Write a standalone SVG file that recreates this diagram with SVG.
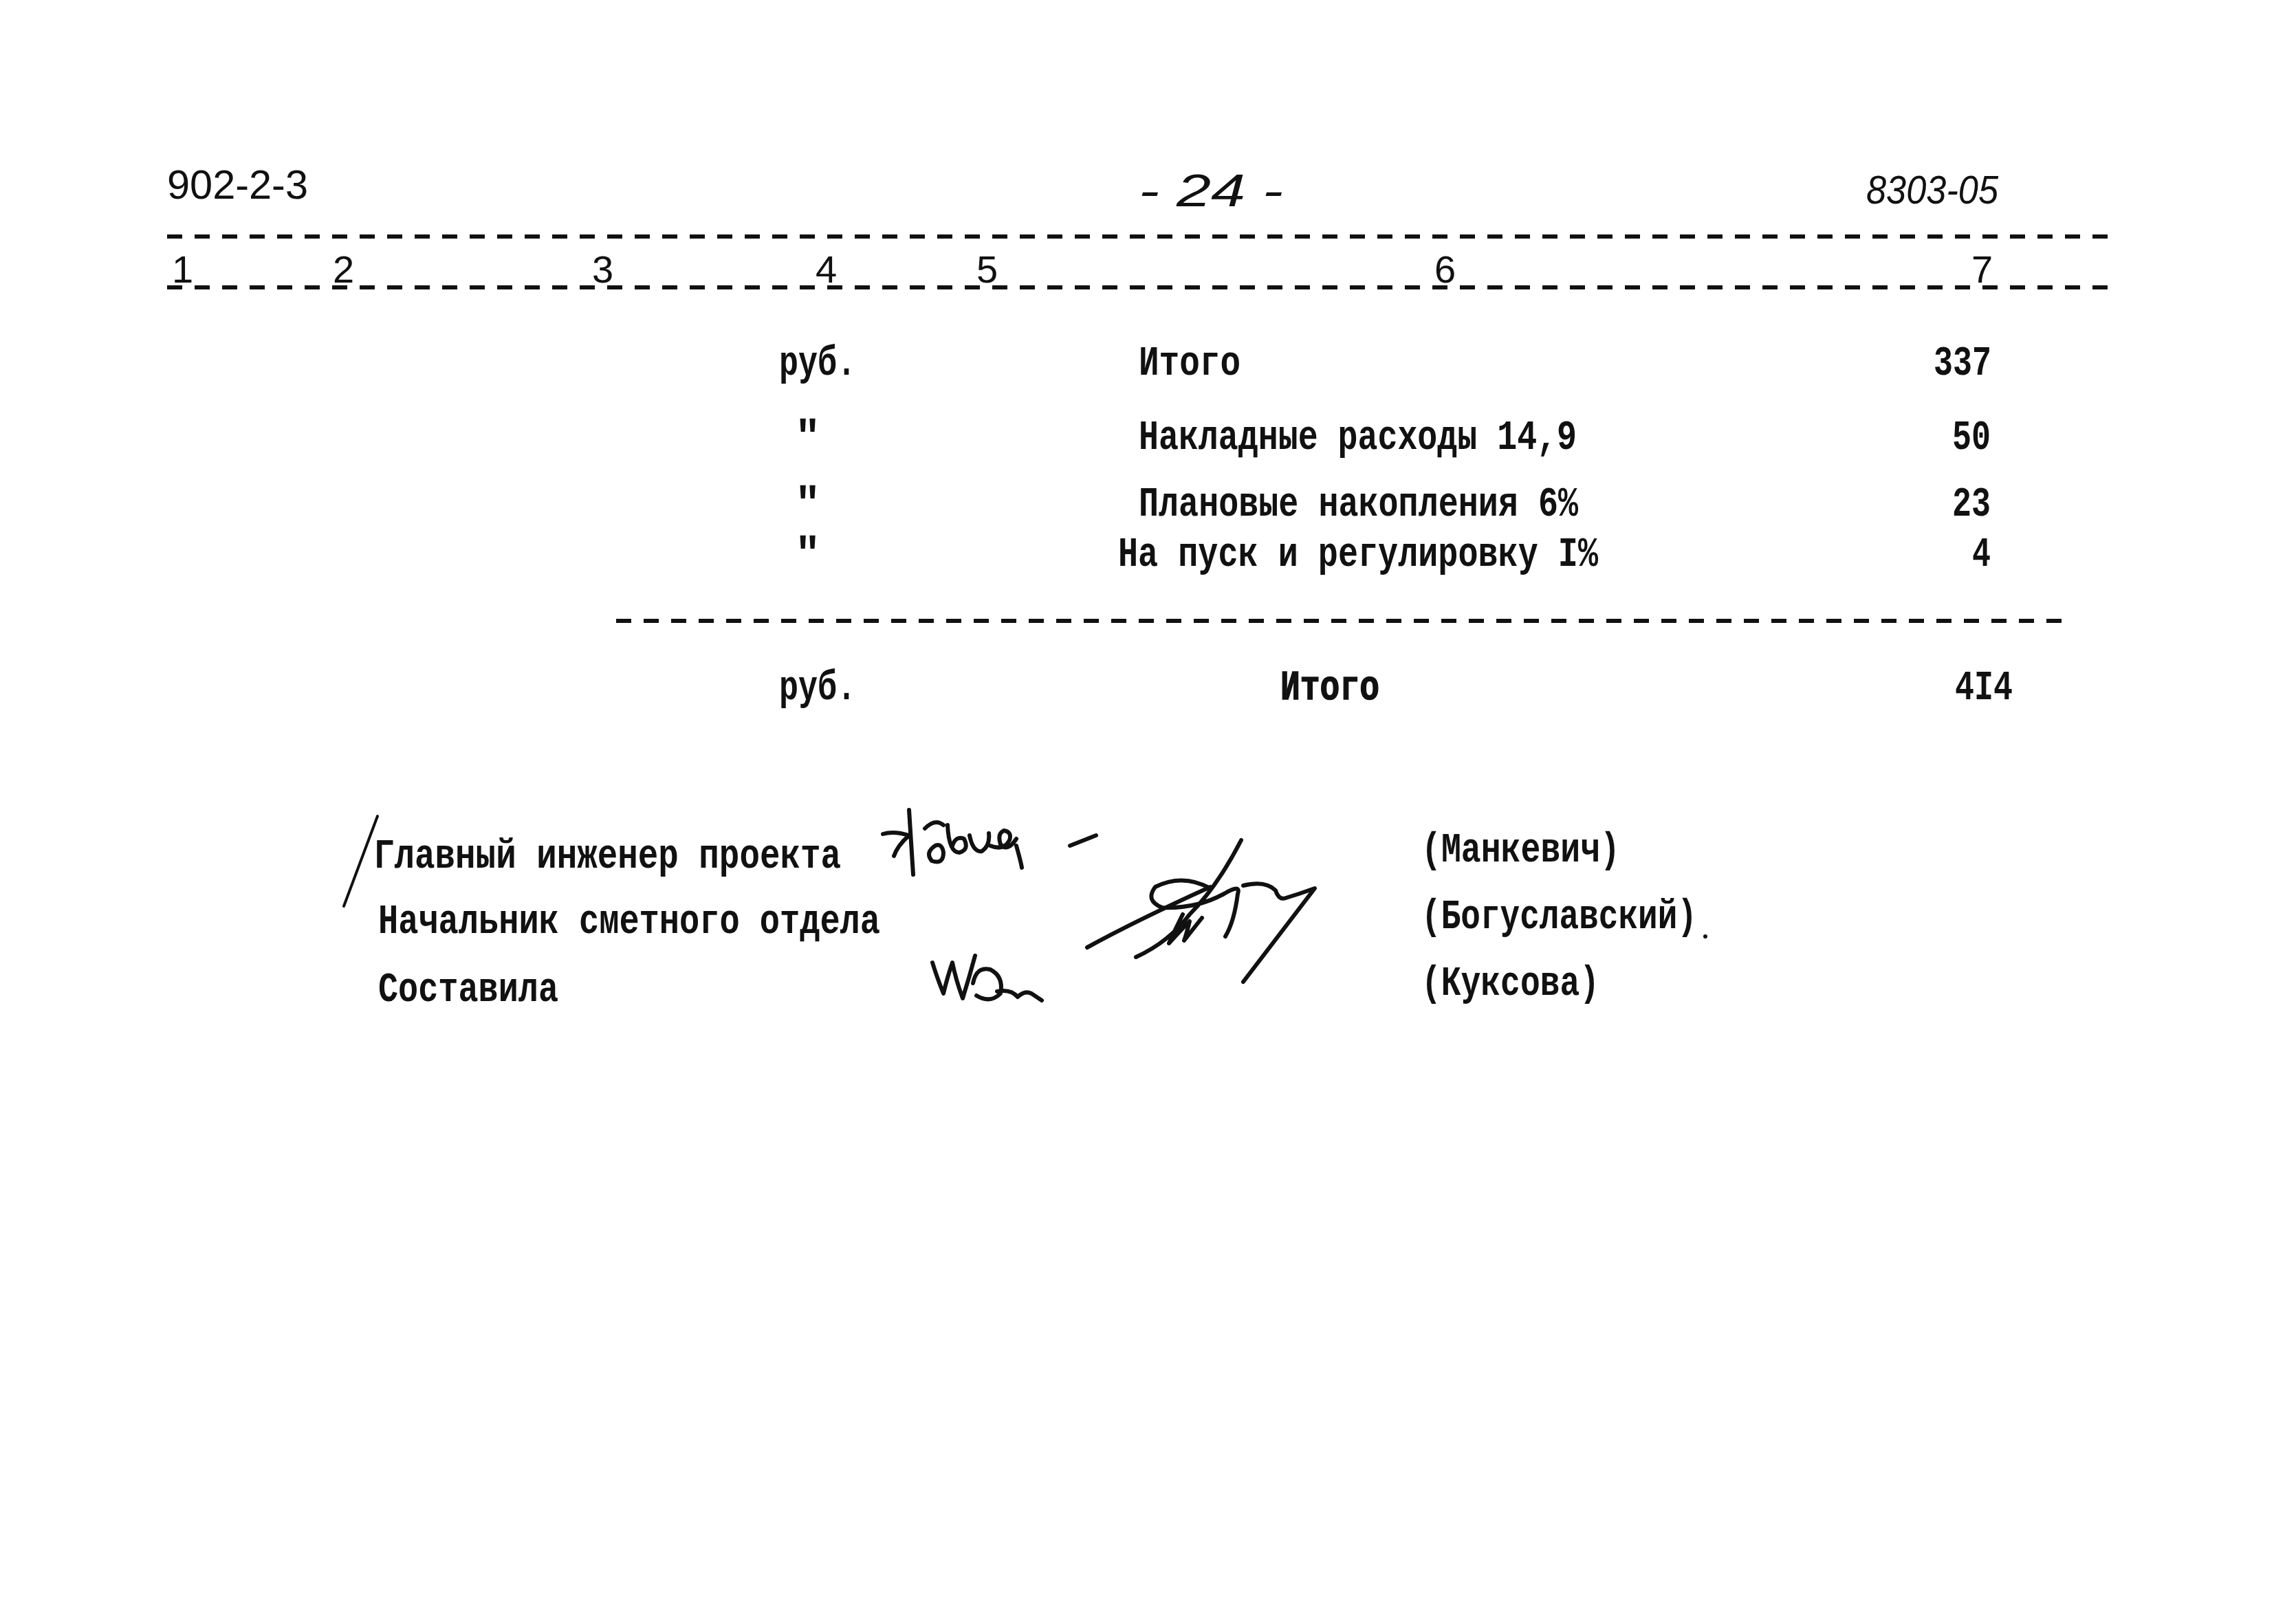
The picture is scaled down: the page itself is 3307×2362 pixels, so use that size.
<svg xmlns="http://www.w3.org/2000/svg" width="3307" height="2362" viewBox="0 0 3307 2362">
<style>
.tw{font-family:"Liberation Mono","DejaVu Sans Mono",monospace;font-size:62px;font-weight:bold;fill:#111}
.hd{font-family:"Liberation Sans","DejaVu Sans",sans-serif;font-size:60px;fill:#111}
.hw{font-family:"Liberation Sans","DejaVu Sans",sans-serif;font-style:italic;font-size:58px;fill:#111}
.dash{stroke:#111;stroke-width:6;stroke-dasharray:22 18;fill:none}
.sig{stroke:#111;stroke-width:6;fill:none;stroke-linecap:round;stroke-linejoin:round}
</style>
<rect width="3307" height="2362" fill="#fff"/>
<g id="header">
<text class="hd" x="243" y="289" textLength="205" lengthAdjust="spacingAndGlyphs">902-2-3</text>
<text class="hw" x="1656" y="300" textLength="210" lengthAdjust="spacingAndGlyphs" style="font-size:66px">- 24 -</text>
<text class="hw" x="2714" y="296" textLength="192" lengthAdjust="spacingAndGlyphs">8303-05</text>
</g>
<g id="connectors">
<line class="dash" x1="243" y1="344" x2="3068" y2="344"/>
<line class="dash" x1="243" y1="418" x2="3068" y2="418"/>
<line class="dash" x1="896" y1="903" x2="3016" y2="903"/>
</g>
<g id="column-numbers" class="hd" style="font-size:56px">
<text x="250" y="411">1</text>
<text x="484" y="411">2</text>
<text x="861" y="411">3</text>
<text x="1186" y="411">4</text>
<text x="1420" y="411">5</text>
<text x="2086" y="411">6</text>
<text x="2867" y="411">7</text>
</g>
<g id="row-total1">
<text class="tw" x="1133" y="545" textLength="112" lengthAdjust="spacingAndGlyphs">руб.</text>
<text class="tw" x="1656" y="545" textLength="148" lengthAdjust="spacingAndGlyphs">Итого</text>
<text class="tw" x="2812" y="545" textLength="84" lengthAdjust="spacingAndGlyphs">337</text>
</g>
<g id="row-overhead">
<text class="tw" x="1156" y="653">"</text>
<text class="tw" x="1656" y="653" textLength="637" lengthAdjust="spacingAndGlyphs">Накладные расходы 14,9</text>
<text class="tw" x="2839" y="653" textLength="56" lengthAdjust="spacingAndGlyphs">50</text>
</g>
<g id="row-planned">
<text class="tw" x="1156" y="750">"</text>
<text class="tw" x="1656" y="750" textLength="639" lengthAdjust="spacingAndGlyphs">Плановые накопления 6%</text>
<text class="tw" x="2839" y="750" textLength="56" lengthAdjust="spacingAndGlyphs">23</text>
</g>
<g id="row-startup">
<text class="tw" x="1156" y="823">"</text>
<text class="tw" x="1626" y="823" textLength="698" lengthAdjust="spacingAndGlyphs">На пуск и регулировку I%</text>
<text class="tw" x="2868" y="823" textLength="27" lengthAdjust="spacingAndGlyphs">4</text>
</g>
<g id="row-total2">
<text class="tw" x="1133" y="1017" textLength="112" lengthAdjust="spacingAndGlyphs">руб.</text>
<text class="tw" x="1862" y="1017" textLength="144" lengthAdjust="spacingAndGlyphs" style="stroke:#111;stroke-width:1.5">Итого</text>
<text class="tw" x="2843" y="1017" textLength="84" lengthAdjust="spacingAndGlyphs">4I4</text>
</g>
<g id="signatures">
<line class="sig" x1="549" y1="1187" x2="500" y2="1318" style="stroke-width:4"/>
<text class="tw" x="544" y="1262" textLength="679" lengthAdjust="spacingAndGlyphs">Главный инженер проекта</text>
<text class="tw" x="550" y="1357" textLength="730" lengthAdjust="spacingAndGlyphs">Начальник сметного отдела</text>
<text class="tw" x="550" y="1456" textLength="262" lengthAdjust="spacingAndGlyphs">Составила</text>
<text class="tw" x="2067" y="1253" textLength="289" lengthAdjust="spacingAndGlyphs">(Манкевич)</text>
<text class="tw" x="2067" y="1350" textLength="401" lengthAdjust="spacingAndGlyphs">(Богуславский)</text>
<circle cx="2480" cy="1362" r="3" fill="#111"/>
<text class="tw" x="2067" y="1447" textLength="259" lengthAdjust="spacingAndGlyphs">(Куксова)</text>
<path class="sig" d="M1322 1178 L1328 1272 M1284 1213 Q1300 1208 1322 1215 Q1305 1230 1300 1245 M1345 1205 Q1360 1190 1372 1200 M1360 1230 Q1345 1240 1355 1252 Q1372 1258 1372 1240 Q1370 1226 1360 1230 M1378 1200 Q1380 1240 1395 1240 Q1410 1236 1402 1220 Q1390 1215 1385 1230 M1410 1215 Q1415 1240 1428 1238 Q1440 1230 1438 1212 M1440 1230 Q1460 1238 1468 1222 Q1472 1210 1460 1208 Q1450 1212 1455 1228 Q1465 1240 1478 1220 M1478 1230 Q1485 1255 1486 1262 M1556 1230 L1594 1215"/>
<path class="sig" d="M1805 1222 Q1770 1290 1730 1330 Q1700 1370 1652 1392 M1581 1378 Q1650 1340 1760 1290 M1760 1292 Q1720 1270 1680 1290 Q1665 1310 1690 1320 Q1740 1322 1780 1300 Q1805 1285 1800 1300 Q1795 1340 1782 1362 M1720 1330 Q1705 1360 1700 1372 Q1720 1350 1730 1340 Q1725 1360 1722 1368 Q1740 1345 1748 1335 M1808 1288 Q1840 1280 1855 1295 Q1860 1310 1870 1306 Q1890 1300 1912 1292 L1808 1428"/>
<path class="sig" d="M1356 1400 Q1362 1420 1372 1445 Q1378 1420 1385 1400 Q1390 1425 1400 1452 Q1410 1420 1418 1390 M1415 1430 Q1420 1405 1440 1410 Q1460 1420 1455 1445 Q1440 1460 1420 1448 M1450 1442 Q1470 1438 1480 1450 Q1490 1440 1500 1445 L1515 1455"/>
</g>
</svg>
